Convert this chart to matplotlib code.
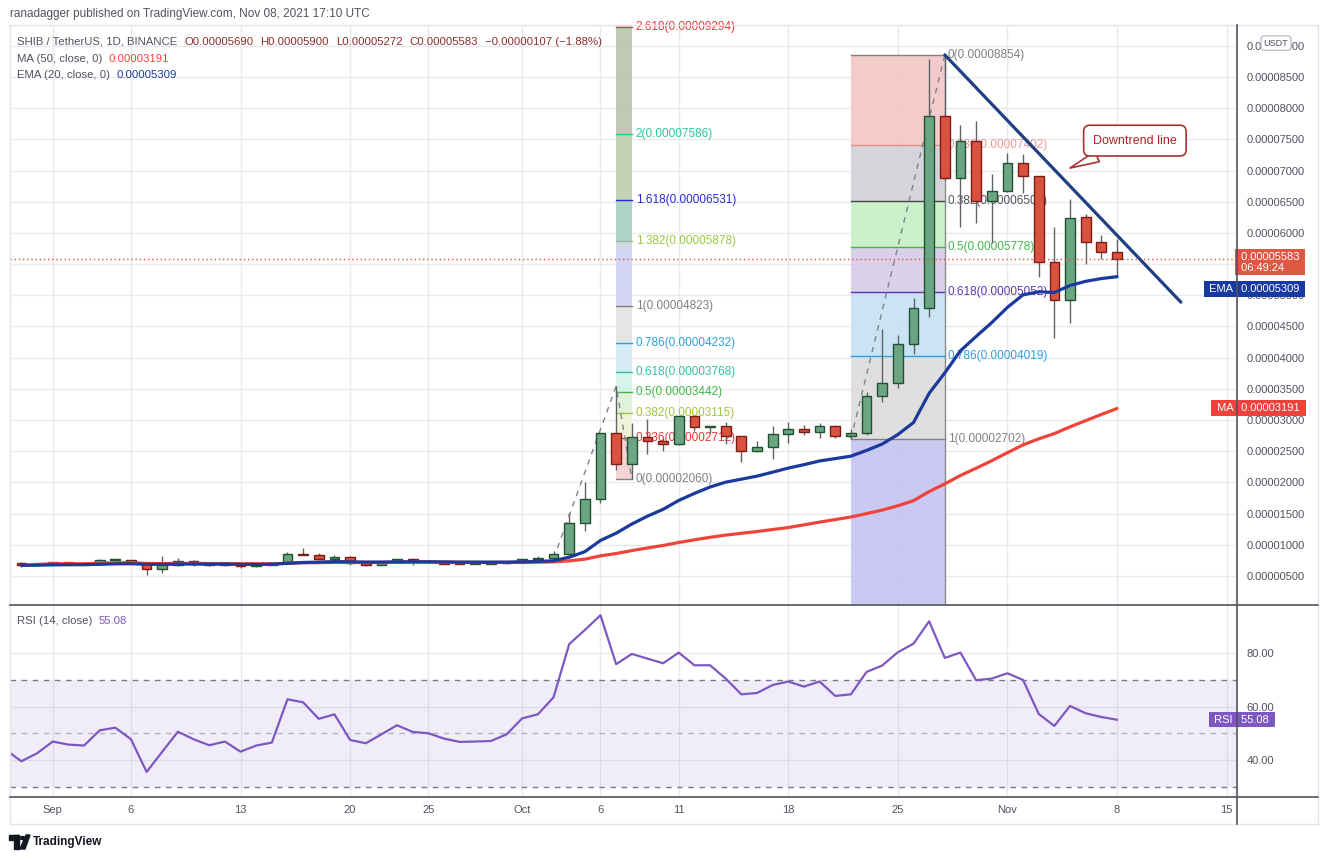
import matplotlib
matplotlib.use("Agg")
import matplotlib.pyplot as plt
import matplotlib.dates as mdates
from matplotlib.lines import Line2D
from matplotlib.patches import Rectangle, Circle, Polygon
import numpy as np
import pandas as pd

plt.rcParams["font.family"] = ["Liberation Sans", "DejaVu Sans"]

W, H = 1324, 860
SCALE = 1e-8  # all prices below are in units of 0.00000001 USDT

# daily SHIB/USDT candles, Aug 30 .. Nov 8 2021
dates = pd.date_range("2021-08-30", "2021-11-08", freq="D")
opens = [708, 671, 697, 724, 697, 692, 751, 756, 713, 607, 676, 735, 697, 671, 697, 655, 681,
         703, 853, 840, 778, 805, 703, 681, 724, 767, 740, 730, 708, 697, 700, 705, 720, 767, 783,
         848, 1345, 1729, 2787, 2290, 2723, 2659, 2611, 3065, 2894, 2905, 2744, 2509, 2563, 2771,
         2851, 2803, 2910, 2744, 2787, 3386, 3589, 4214, 4791, 7879, 6875, 7473, 6517, 6677, 7126,
         6912, 5528, 4924, 6250, 5854, 5690]
highs = [718, 700, 730, 727, 712, 770, 765, 762, 718, 820, 783, 756, 705, 700, 700, 690, 710,
         885, 949, 868, 837, 826, 724, 730, 775, 783, 745, 745, 722, 722, 720, 730, 780, 820, 901,
         1505, 2002, 2797, 3542, 2947, 3012, 2707, 3070, 3070, 2910, 2974, 2750, 2659, 2905, 2963,
         2920, 2947, 2915, 2856, 3455, 4454, 4363, 4951, 8782, 8854, 7730, 7794, 6944, 7286, 7265,
         6920, 6089, 6538, 6303, 5966, 5900]
lows = [650, 660, 680, 692, 688, 690, 740, 705, 521, 553, 665, 665, 665, 660, 633, 645, 670,
        700, 831, 776, 740, 681, 665, 675, 715, 681, 715, 690, 690, 692, 695, 700, 715, 740, 767,
        836, 1227, 1665, 2200, 2060, 2456, 2509, 2600, 2830, 2790, 2611, 2333, 2490, 2376, 2637,
        2760, 2718, 2707, 2702, 2760, 3295, 3509, 4054, 4657, 6850, 6100, 6153, 5833, 6650, 6645,
        5288, 4310, 4550, 5496, 5582, 5272]
closes = [671, 697, 724, 697, 692, 751, 756, 713, 607, 676, 735, 697, 671, 697, 655, 681, 703,
          853, 840, 778, 805, 703, 681, 724, 767, 740, 730, 697, 697, 716, 716, 724, 770, 788, 853,
          1345, 1729, 2787, 2290, 2723, 2659, 2611, 3065, 2894, 2900, 2744, 2509, 2563, 2771, 2851,
          2803, 2910, 2744, 2787, 3386, 3589, 4214, 4791, 7879, 6875, 7473, 6517, 6677, 7126, 6912,
          5528, 4924, 6233, 5854, 5690, 5583]

# RSI(14), Aug 29 .. Nov 8
rsi_dates = pd.date_range("2021-08-29", "2021-11-08", freq="D")
rsi = [43.75, 39.5, 42.5, 46.9, 45.75, 45.4, 51.1, 52.1, 47.75, 35.5, 43.1, 50.6, 47.75, 45.5,
       46.9, 43.1, 45.4, 46.5, 62.75, 61.6, 55.4, 57.1, 47.5, 46.25, 49.6, 53.0, 50.5, 50.0, 48.0,
       46.75, 46.9, 47.1, 49.6, 55.6, 57.1, 63.5, 83.4, 88.75, 94.25, 75.9, 79.75, 78.0, 76.25,
       80.25, 75.5, 75.5, 70.5, 64.6, 65.1, 68.1, 69.4, 67.5, 69.4, 64.0, 64.6, 73.0, 75.4, 80.4,
       83.6, 92.0, 78.25, 80.25, 69.9, 70.5, 72.5, 70.0, 57.25, 52.75, 60.25, 57.5, 56.1, 55.08]

last_price, ema_last, ma_last, rsi_last = 5583, 5309, 3191, 55.08

# trend based fib extension (Oct 3 -> Oct 7 -> Oct 8)
ext_levels = [0, 0.236, 0.382, 0.5, 0.618, 0.786, 1, 1.382, 1.618, 2, 2.618]
ext_prices = [2060, 2712, 3115, 3442, 3768, 4232, 4823, 5878, 6531, 7586, 9294]
ext_path = (["2021-10-03", "2021-10-07", "2021-10-08"], [779, 3542, 2060])
# fib retracement Oct 22 -> Oct 28
ret_levels = [0, 0.236, 0.382, 0.5, 0.618, 0.786, 1]
ret_prices = [8854, 7402, 6508, 5778, 5052, 4019, 2702]
ret_path = (["2021-10-22", "2021-10-28"], [2702, 8854])
# downtrend line
trend = (["2021-10-28", "2021-11-12 02:00"], [8854, 4890])

tick_dates = ["2021-09-01", "2021-09-06", "2021-09-13", "2021-09-20", "2021-09-25", "2021-10-01",
              "2021-10-06", "2021-10-11", "2021-10-18", "2021-10-25", "2021-11-01", "2021-11-08",
              "2021-11-15"]
tick_labels = ["Sep", "6", "13", "20", "25", "Oct", "6", "11", "18", "25", "Nov", "8", "15"]

GREEN, GREEN_E = "#6ba583", "#21522f"
RED, RED_E = "#d9513f", "#7b1d17"
EMA_C, MA_C, RSI_C = "#1b3a9c", "#f0443a", "#7e57c2"
GRID = "#e8eaee"
TXT = "#50535e"
AXC = "#50535e"


def fx(px):
    return px / W


def fy(py):
    return 1 - py / H


def dn(s):
    return mdates.date2num(pd.Timestamp(s))


fig = plt.figure(figsize=(W / 100, H / 100), dpi=100)
fig.patch.set_facecolor("white")

L, R, TOP, MID, BOT = 10, 1237, 25, 605, 797
ax = fig.add_axes([fx(L), fy(MID), fx(R) - fx(L), fy(TOP) - fy(MID)])
rx = fig.add_axes([fx(L), fy(BOT), fx(R) - fx(L), fy(MID) - fy(BOT)], sharex=ax)

x = mdates.date2num(dates)
o, h, l, c = map(np.array, (opens, highs, lows, closes))
sep1 = dn("2021-09-01")
ax.set_xlim(sep1 - 2.73, sep1 + 75.67)
ax.set_ylim(35, 9333)
rx.set_ylim(26.1, 98.1)

for a in (ax, rx):
    a.set_axisbelow(True)
    a.grid(True, color=GRID, lw=1)
    for s in a.spines.values():
        s.set_visible(False)
    a.set_xticks([dn(t) for t in tick_dates])
    a.yaxis.tick_right()
    a.tick_params(length=0, labelsize=8, labelcolor=TXT)
ax.tick_params(axis="x", labelbottom=False)
ax.tick_params(axis="y", pad=7)
rx.tick_params(axis="y", pad=7)
rx.tick_params(axis="x", pad=6)
rx.set_xticklabels(tick_labels)

yt = np.arange(500, 9001, 500)
ax.set_yticks(yt)
# the 0.00005500 label sits fully under the last-price tag
ax.set_yticklabels(["" if v == 5500 else f"{v * SCALE:.8f}" for v in yt])
rx.set_yticks([40, 60, 80])
rx.set_yticklabels(["40.00", "60.00", "80.00"])

# fib extension drawing
x0, x1 = dn("2021-10-07"), dn("2021-10-08")
ext_line = ["#808080", "#e53935", "#a3c43b", "#43b649", "#2ec4a0", "#2d9fe0", "#808080",
            "#9cc93d", "#2a2ad0", "#2ec4a0", "#e53935"]
ext_fill = ["#f3d0d0", "#eef3d5", "#dcf2d8", "#d2f3ea", "#d2e9f5", "#e3e3e3", "#cfd1f3",
            "#a5d1c3", "#bccfa9", "#b9c3b1", "#c7d0dc"]
bounds = ext_prices + [9700]
for i in range(len(ext_prices)):
    ax.fill_between([x0, x1], bounds[i], bounds[i + 1], color=ext_fill[i], alpha=0.9, lw=0, zorder=1)
for lv, p, col in zip(ext_levels, ext_prices, ext_line):
    ax.plot([x0, x1], [p, p], color=col, lw=1, zorder=2)
    ax.annotate(f"{lv:g}({p * SCALE:.8f})", (x1, p), xytext=(4, 0), textcoords="offset pixels",
                va="center", ha="left", fontsize=8.5, color=col, zorder=3)
ax.plot([dn(d) for d in ext_path[0]], ext_path[1], color="#80838c", lw=1, ls=(0, (4, 4)), zorder=3)

# fib retracement drawing
r0, r1 = dn("2021-10-22"), dn("2021-10-28")
ret_line = ["#808080", "#e88c8c", "#444444", "#43b649", "#5e35b1", "#2d9fe0", "#808080"]
ret_text = ["#808080", "#ec9a9a", "#50535e", "#43b649", "#5e35b1", "#2d9fe0", "#808080"]
ret_fill = ["#f3c6c6", "#d0d0d6", "#c5f0c3", "#d6cbe8", "#c6e2f3", "#dcdcdc", "#c3c3f0"]
rb = ret_prices + [-1100]
for i in range(len(ret_fill)):
    ax.fill_between([r0, r1], rb[i + 1], rb[i], color=ret_fill[i], alpha=0.9, lw=0, zorder=1)
for lv, p, col, tc in zip(ret_levels, ret_prices, ret_line, ret_text):
    ax.plot([r0, r1], [p, p], color=col, lw=1, zorder=2)
    ax.annotate(f"{lv:g}({p * SCALE:.8f})", (r1, p), xytext=(3, 0), textcoords="offset pixels",
                va="center", ha="left", fontsize=8.5, color=tc, zorder=3)
ax.plot([r1, r1], [ret_prices[0], -1100], color="#8a8a8a", lw=1, zorder=2)
ax.plot([dn(d) for d in ret_path[0]], ret_path[1], color="#80838c", lw=1, ls=(0, (4, 4)), zorder=3)

# candles
up = c >= o
ax.vlines(x, l, h, color="#5f6368", lw=1, zorder=4)
ax.bar(x, np.maximum(np.abs(c - o), 14), bottom=np.minimum(o, c), width=0.62,
       color=np.where(up, GREEN, RED), edgecolor=np.where(up, GREEN_E, RED_E), lw=1, zorder=5)

# moving averages
ema = pd.Series(c, dtype=float).ewm(span=20, adjust=False).mean()
ma = pd.Series(c, dtype=float).rolling(50, min_periods=1).mean()
ax.plot(x, ma, color=MA_C, lw=2.3, zorder=6, solid_capstyle="round")
ax.plot(x, ema, color=EMA_C, lw=2.3, zorder=6, solid_capstyle="round")
ax.axhline(last_price, color="#e0523f", lw=1, ls=(0, (1, 2)), zorder=6)

# downtrend line + callout
ax.plot([dn(d) for d in trend[0]], trend[1], color="#203f80", lw=2.3, zorder=7,
        solid_capstyle="round")
ax.annotate("Downtrend line", xy=(dn("2021-11-05"), 7040), xytext=(dn("2021-11-09 03:30"), 7480),
            ha="center", va="center", fontsize=9, color="#a82424", zorder=8,
            bbox=dict(boxstyle="round,pad=0.75,rounding_size=0.5", fc="white", ec="#a83232", lw=1.2),
            arrowprops=dict(arrowstyle="wedge,tail_width=0.9,shrink_factor=0.5", fc="white",
                            ec="#a83232", lw=1.2, shrinkA=0, shrinkB=0))

# RSI pane
rx.axhspan(30, 70, color=RSI_C, alpha=0.1, lw=0)
for lvl, col in ((70, "#787b86"), (50, "#b2b5be"), (30, "#787b86")):
    rx.axhline(lvl, color=col, lw=1, ls=(0, (4, 4)))
rx.plot(mdates.date2num(rsi_dates), rsi, color=RSI_C, lw=1.6, zorder=5)


# price tags on the right scale
def tag(a, y, text, fc, dy=0, side="right", va="center", ls=1.0):
    if side == "right":
        xo, ha = 1, "left"
    else:
        xo, ha = -1, "right"
    a.annotate(text, xy=(1.0, y), xycoords=a.get_yaxis_transform(), xytext=(xo, dy),
               textcoords="offset pixels", ha=ha, va=va, color="white", fontsize=8,
               linespacing=ls, annotation_clip=False, zorder=20,
               bbox=dict(boxstyle="square,pad=0.25", fc=fc, ec="none"))


tag(ax, last_price, f" {last_price * SCALE:.8f} \n 06:49:24", "#dc5843", dy=7, va="top", ls=1.1)
tag(ax, ema_last, f" {ema_last * SCALE:.8f} ", "#173aa0", dy=-13)
tag(ax, ema_last, " EMA ", "#173aa0", dy=-13, side="left")
tag(ax, ma_last, f" {ma_last * SCALE:.8f} ", "#f2403a")
tag(ax, ma_last, " MA ", "#f2403a", side="left")
tag(rx, rsi_last, f" {rsi_last:.2f} ", RSI_C)
tag(rx, rsi_last, " RSI ", RSI_C, side="left")

fig.text(fx(1276), fy(43), "USDT", fontsize=6.5, color=TXT, ha="center", va="center", zorder=30,
         bbox=dict(boxstyle="round,pad=0.3,rounding_size=0.4", fc="white", ec="#b2b5be", lw=0.8))

# frame and pane separators
def fline(xs, ys, col, lw):
    fig.add_artist(Line2D([fx(v) for v in xs], [fy(v) for v in ys], transform=fig.transFigure,
                          color=col, lw=lw, zorder=25))


fline([L, 1318, 1318, L, L], [TOP, TOP, 824, 824, TOP], "#e3e5ea", 1)
fline([L, 1318], [MID, MID], AXC, 1.2)
fline([L, 1318], [BOT, BOT], AXC, 1.2)
fline([R, R], [TOP, 824], AXC, 1.2)

# header texts
fig.canvas.draw()
rend = fig.canvas.get_renderer()


def row(px, py, parts, size=8.5, gap=6):
    for s, col in parts:
        t = fig.text(fx(px), fy(py), s, color=col, fontsize=size, ha="left", va="center", zorder=30)
        px += t.get_window_extent(renderer=rend).width + gap


row(10, 14, [("ranadagger published on TradingView.com, Nov 08, 2021 17:10 UTC", TXT)])
ohlc = "#8a2e2a"
row(17, 42, [("SHIB / TetherUS, 1D, BINANCE", TXT), ("O0.00005690", ohlc), ("H0.00005900", ohlc),
             ("L0.00005272", ohlc), ("C0.00005583", ohlc), ("\u22120.00000107 (\u22121.88%)", ohlc)],
    size=8.2, gap=7)
row(17, 59, [("MA (50, close, 0)", TXT), (f"{ma_last * SCALE:.8f}", MA_C)], size=8.2)
row(17, 75, [("EMA (20, close, 0)", TXT), (f"{ema_last * SCALE:.8f}", EMA_C)], size=8.2)
row(17, 621, [("RSI (14, close)", TXT), (f"{rsi_last:.2f}", RSI_C)], size=8.2)

# TradingView logo
DARK = "#131722"
tf = fig.transFigure
fig.add_artist(Rectangle((fx(9), fy(840)), fx(10), fy(835) - fy(840), transform=tf, color=DARK))
fig.add_artist(Rectangle((fx(14), fy(849)), fx(5), fy(835) - fy(849), transform=tf, color=DARK))
fig.add_artist(Circle((fx(22.5), fy(838)), 2.3 / W, transform=tf, color=DARK))
fig.add_artist(Polygon([(fx(20), fy(849)), (fx(25), fy(849)), (fx(30), fy(835)), (fx(26), fy(835))],
                       closed=True, transform=tf, color=DARK))
fig.text(fx(33), fy(842), "TradingView", fontsize=8.5, fontweight="bold", color=DARK,
         ha="left", va="center")

fig.savefig("out.png", dpi=100, facecolor="white")
